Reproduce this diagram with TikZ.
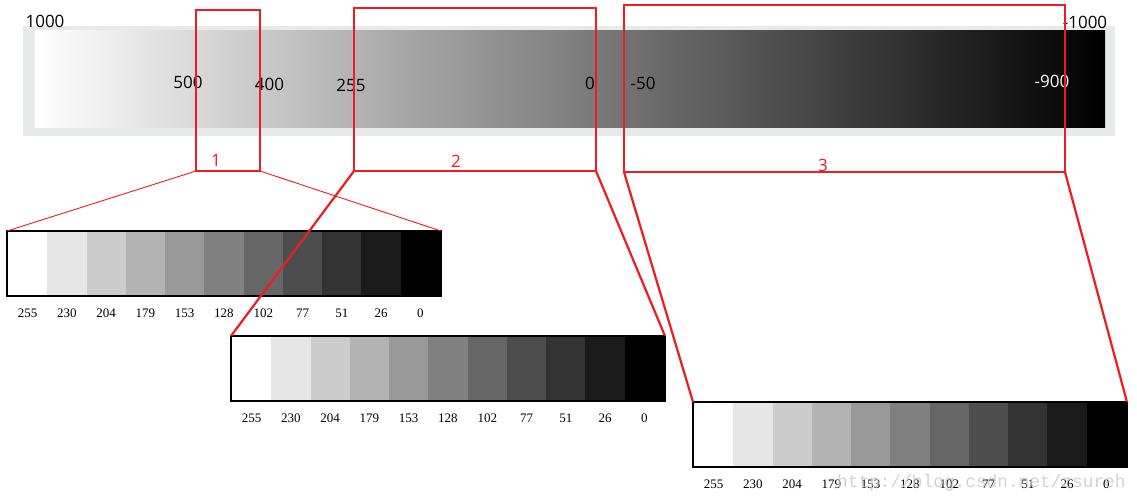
\documentclass[tikz,border=0pt]{standalone}
\usepackage{fontspec}
\setmainfont{Liberation Serif}
\newfontfamily\labelfont{Open Sans}
\newfontfamily\markfont{Liberation Mono}

\definecolor{zoomred}{RGB}{237,28,36}
\definecolor{framegray}{RGB}{232,233,235}

\tikzset{
  zoombox/.style={draw=zoomred, line width=1.3pt, inner sep=0pt, outer sep=0pt},
  barframe/.style={draw=black, line width=2.2pt, minimum width=434pt, minimum height=65pt,
    inner sep=0pt, outer sep=0pt},
  graylabel/.style={font=\fontsize{13}{13}\selectfont, inner sep=0pt},
  scalelabel/.style={font=\labelfont\fontsize{17}{17}\selectfont, inner sep=0pt},
  boxnum/.style={text=zoomred, font=\labelfont\fontsize{17}{17}\selectfont, inner sep=0pt},
  thinlink/.style={draw=zoomred, line width=0.9pt},
  thicklink/.style={draw=zoomred, line width=2.2pt},
}

% #1 name, #2 left x, #3 top y
\newcommand{\graybar}[3]{%
  \foreach \v [count=\i from 0] in {255,230,204,179,153,128,102,77,51,26,0} {
    \definecolor{cellgray}{RGB}{\v,\v,\v}
    \fill[cellgray] ({#2+1+\i*39.27},{#3+1}) rectangle ++(39.5,63);
    \node[graylabel] at ({#2+1+(\i+0.5)*39.27},{#3+82}) {\v};
  }
  \node[barframe, anchor=north west] (#1) at (#2,#3) {};
}

\begin{document}
\begin{tikzpicture}[x=1pt,y=-1pt]
  \useasboundingbox[fill=white] (0,0) rectangle (1137,499);

  % gray scale strip
  \fill[framegray] (23,26) rectangle (1115,136);
  \shade[left color=white, right color=black] (35,30) rectangle (1105,127);
  \node[scalelabel] (t1000) at (45,21) {1000};
  \node[scalelabel] (t500) at (188,82) {500};
  \node[scalelabel] (t400) at (269.5,84.5) {400};
  \node[scalelabel] (t255) at (351,85.5) {255};
  \node[scalelabel] (t0) at (590,83) {0};
  \node[scalelabel] (tm50) at (643,83) {-50};
  \node[scalelabel, text=white] (tm900) at (1052,81) {-900};
  \node[scalelabel] (tm1000) at (1085,22) {-1000};

  % zoom windows
  \node[zoombox, minimum width=64pt, minimum height=161pt] (box1) at (228,90.5) {};
  \node[zoombox, minimum width=242pt, minimum height=163pt] (box2) at (475,89.5) {};
  \node[zoombox, minimum width=441pt, minimum height=167pt] (box3) at (844.5,88.5) {};
  \node[boxnum] (n1) at (216,160) {1};
  \node[boxnum] (n2) at (456,161) {2};
  \node[boxnum] (n3) at (823,165) {3};

  % the three 8-bit bars
  \graybar{bar1}{7}{231}
  \graybar{bar2}{231}{336}
  \graybar{bar3}{693}{402}

  \draw[thinlink] (box1.south west) -- (bar1.north west);
  \draw[thinlink] (box1.south east) -- (bar1.north east);
  \draw[thicklink] (box2.south west) -- (bar2.north west);
  \draw[thicklink] (box2.south east) -- (bar2.north east);
  \draw[thicklink] (box3.south west) -- (bar3.north west);
  \draw[thicklink] (box3.south east) -- (bar3.north east);

  \node[anchor=base west, inner sep=0pt, text=black!22, opacity=0.8,
    font=\markfont\fontsize{17.8}{17.8}\selectfont] (mark) at (837,487) {http://blog.csdn.net/zsureh};
\end{tikzpicture}
\end{document}
